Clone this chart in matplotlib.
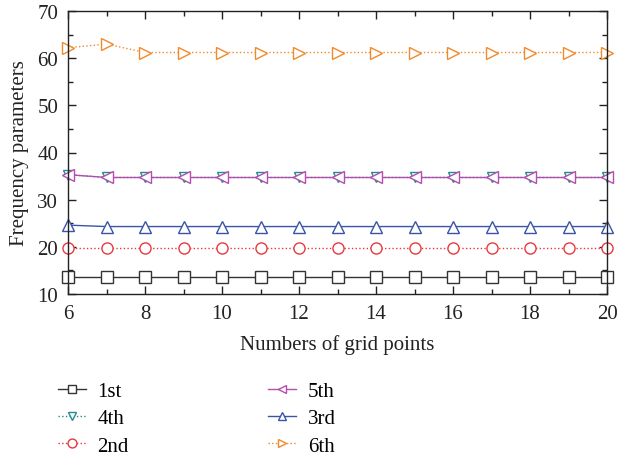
import matplotlib
matplotlib.use("Agg")
import matplotlib.pyplot as plt
from matplotlib.ticker import MultipleLocator

plt.rcParams['font.family'] = ['Liberation Serif', 'DejaVu Serif']

grid_points = [6, 7, 8, 9, 10, 11, 12, 13, 14, 15, 16, 17, 18, 19, 20]
mode_1st = [13.6] * 15
mode_2nd = [19.7] * 15
mode_3rd = [24.6] + [24.3] * 14
mode_4th = [35.3] + [34.7] * 14
mode_5th = [35.3] + [34.7] * 14
mode_6th = [62.2, 63.0] + [61.2] * 13

series = [
    ("1st", mode_1st, '#333333', '-', 's', 8),
    ("4th", mode_4th, '#1f8f8a', ':', 'v', 6.5),
    ("2nd", mode_2nd, '#e8383d', ':', 'o', 8),
    ("5th", mode_5th, '#b54dae', '-', '<', 8),
    ("3rd", mode_3rd, '#3a55a8', '-', '^', 8),
    ("6th", mode_6th, '#f08a2c', ':', '>', 8),
]

fig = plt.figure(figsize=(6.17, 4.56), dpi=100)
ax = fig.add_axes([68 / 617, 1 - 295 / 456, (607 - 68) / 617, (295 - 12) / 456])

for label, vals, color, ls, mk, ms in series:
    ax.plot(grid_points, vals, linestyle=ls, color=color, marker=mk,
            markersize=ms, markerfacecolor='white', markeredgecolor=color,
            markeredgewidth=1.0, linewidth=1.0, label=label, clip_on=False)

ax.set_xlim(6, 20)
ax.set_ylim(10, 70)
ax.xaxis.set_major_locator(MultipleLocator(2))
ax.xaxis.set_minor_locator(MultipleLocator(1))
ax.yaxis.set_major_locator(MultipleLocator(10))
ax.yaxis.set_minor_locator(MultipleLocator(5))
ax.tick_params(which='both', direction='in', top=True, right=True,
               labelsize=15, colors='#222222', pad=7)
ax.tick_params(which='major', length=6, width=1)
ax.tick_params(which='minor', length=3.5, width=1)
for sp in ax.spines.values():
    sp.set_color('#222222')
    sp.set_linewidth(1.0)

ax.set_xlabel("Numbers of grid points", fontsize=15, color='#222222', labelpad=8)
ax.set_ylabel("Frequency parameters", fontsize=15, color='#222222', labelpad=6)

fig.legend(loc='upper left', bbox_to_anchor=(39 / 617, 1 - 364 / 456), ncol=2,
           frameon=False, fontsize=15, columnspacing=6.7, handlelength=1.35,
           labelspacing=0.36, handletextpad=0.55, markerscale=0.8)

fig.savefig("out.png", dpi=100)
